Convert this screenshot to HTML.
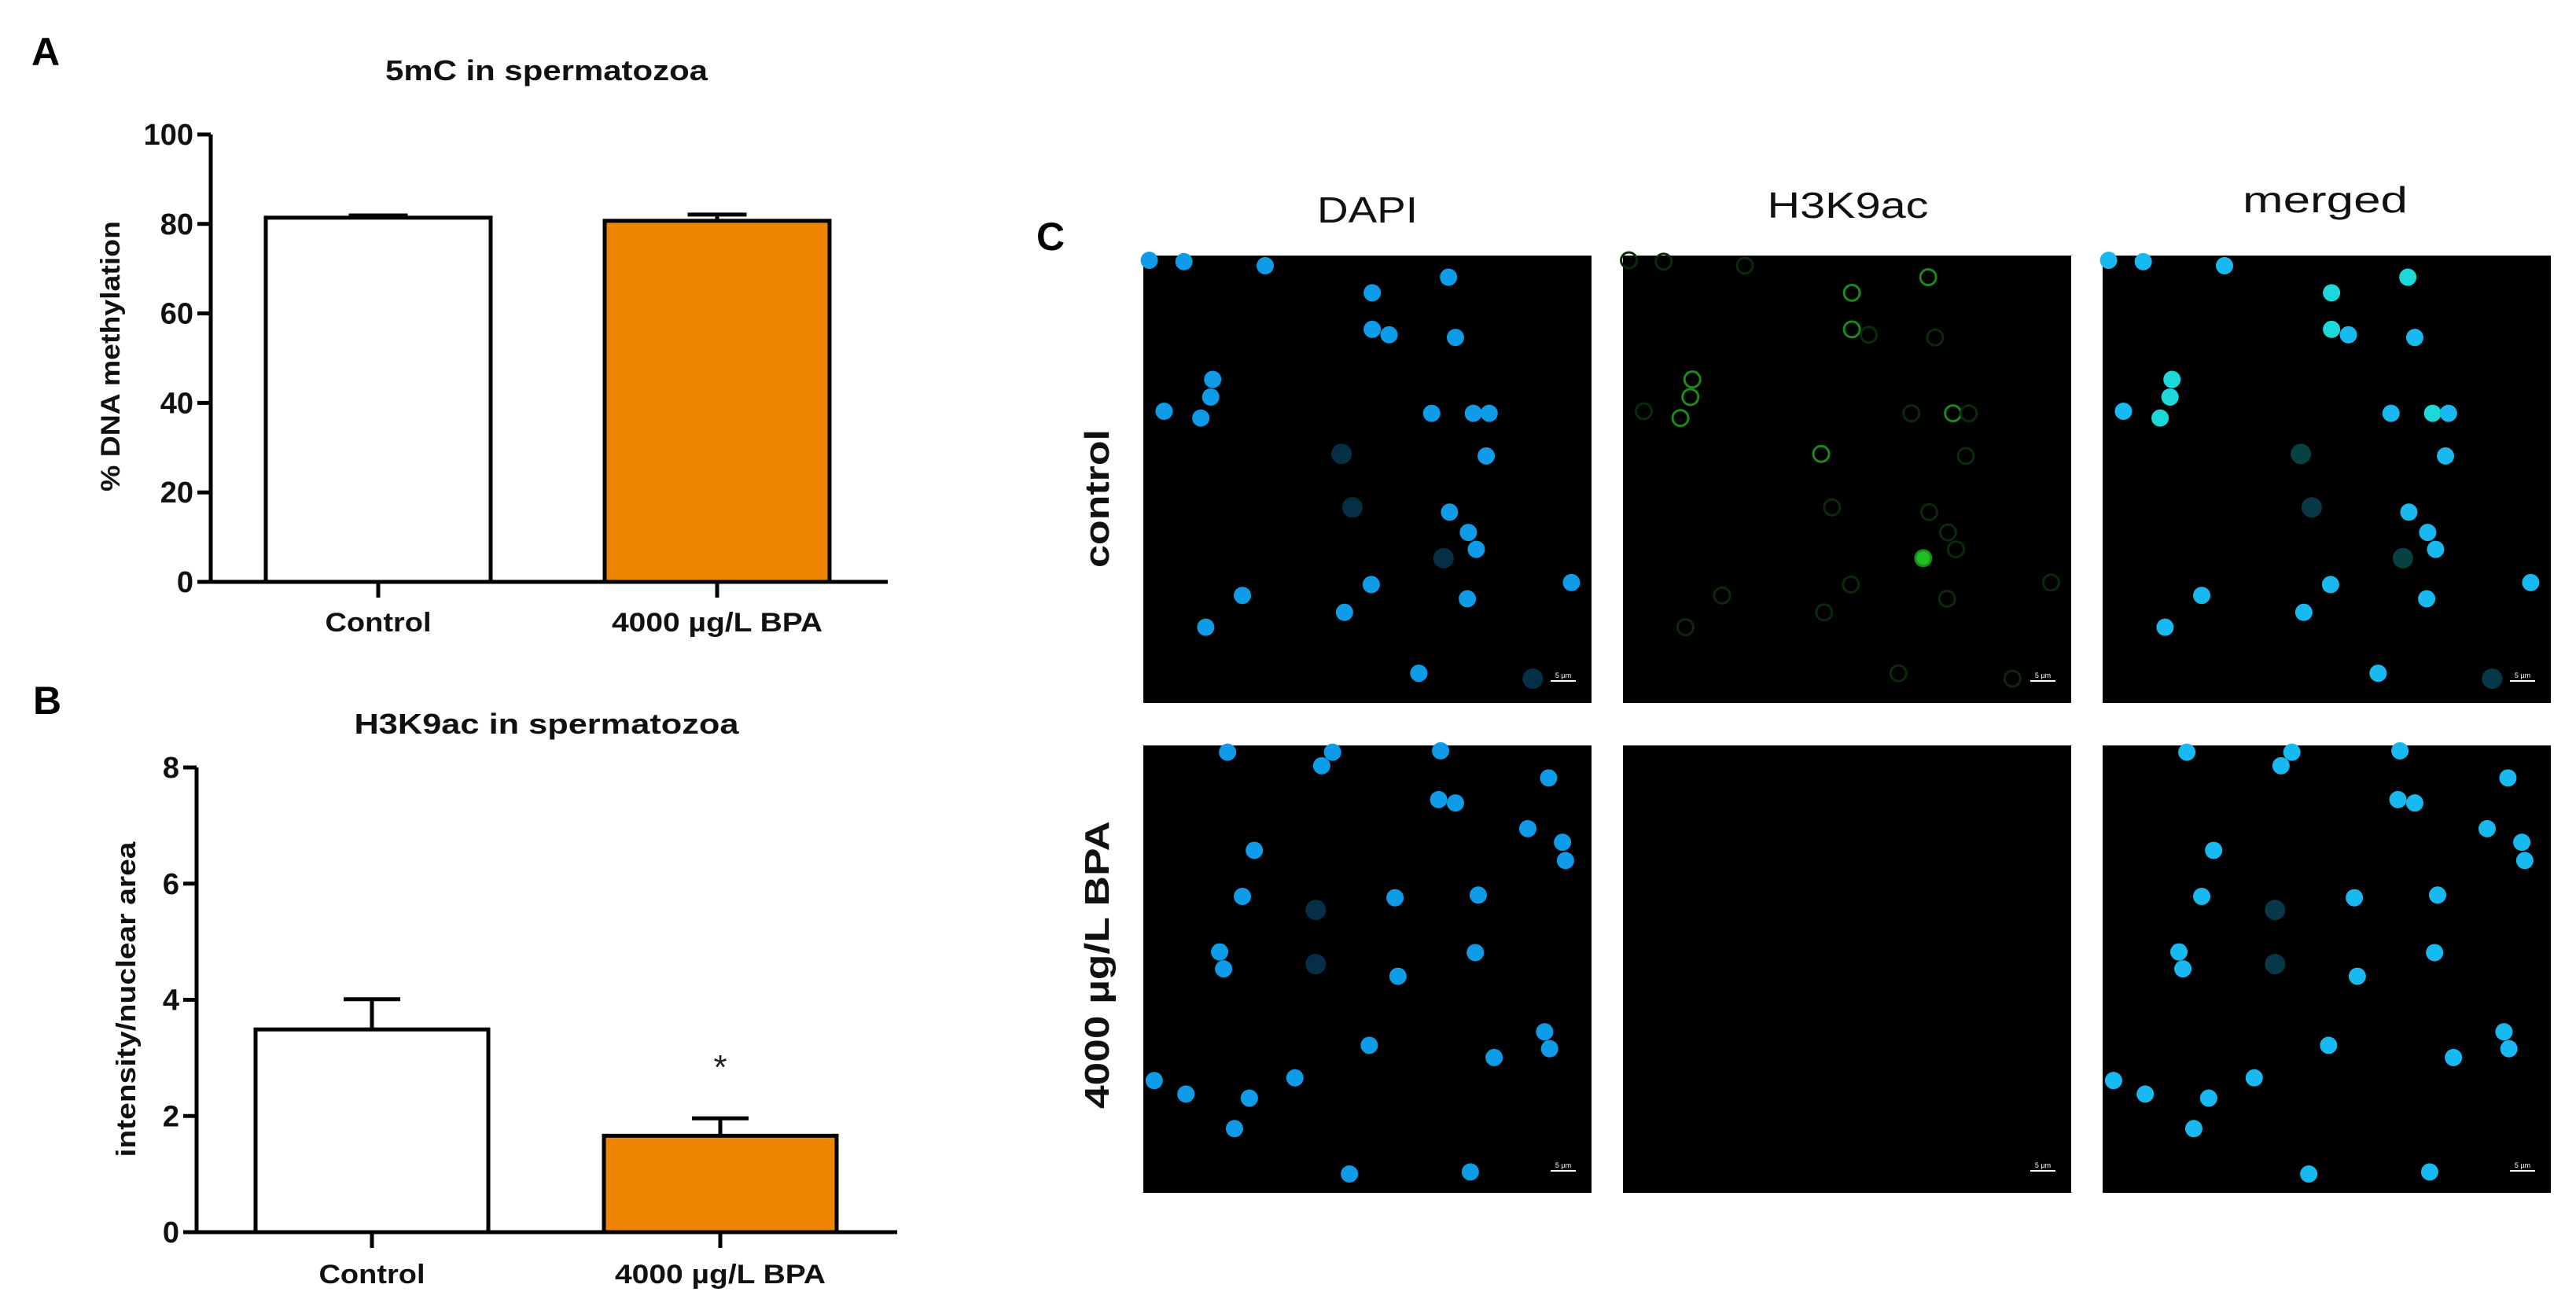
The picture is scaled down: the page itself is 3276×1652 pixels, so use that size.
<!DOCTYPE html>
<html><head><meta charset="utf-8"><style>
html,body{margin:0;padding:0;background:#fff}
svg{display:block}
text{font-family:"Liberation Sans",sans-serif}
</style></head><body>
<svg id="fig" width="3276" height="1652" viewBox="0 0 3276 1652" xmlns="http://www.w3.org/2000/svg">
<rect width="3276" height="1652" fill="#fff"/>
<g id="chartA"></g>
<g id="chartB"></g>
<g id="panelC"></g>
</svg>
<script>
// ---- chart data ----
const categories = ["Control", "4000 \u00b5g/L BPA"];
const methylValues = [81.4, 80.7];
const methylErr = [0.5, 1.4];
const methylTicks = [0, 20, 40, 60, 80, 100];
const acValues = [3.49, 1.66];
const acErr = [0.52, 0.30];
const acTicks = [0, 2, 4, 6, 8];
const barColors = ["#ffffff", "#ee8500"];

const NS = "http://www.w3.org/2000/svg";
function mk(parent, tag, attrs, txt){
  const e = document.createElementNS(NS, tag);
  for (const k in attrs) e.setAttribute(k, attrs[k]);
  if (txt !== undefined) e.textContent = txt;
  parent.appendChild(e);
  return e;
}

function drawChart(g, cfg){
  const y = v => cfg.y0 - (v - cfg.vmin) / (cfg.vmax - cfg.vmin) * (cfg.y0 - cfg.y1);
  const x = i => cfg.centers[i];
  // panel letter
  let t = mk(g, "text", {x: cfg.letterX, y: cfg.letterY, "font-size": 50, "font-weight": "bold"}, cfg.letter);
  
  
  t = mk(g, "text", {x: cfg.titleX, y: cfg.titleY, "font-size": 36, "font-weight": "bold", "text-anchor": "middle", textLength: cfg.titleLen, lengthAdjust: "spacingAndGlyphs", fill: "#111"}, cfg.title);
  
  
  // bars
  cfg.values.forEach((v, i) => {
    const cx = x(i);
    const eb = mk(g, "path", {d: `M${cx} ${y(v)} V${y(v + cfg.err[i])} M${cx - cfg.cap/2} ${y(v + cfg.err[i])} H${cx + cfg.cap/2}`, stroke: "#000", "stroke-width": 5, fill: "none"});
    
    
    const r = mk(g, "rect", {x: cx - cfg.barW/2, y: y(v), width: cfg.barW, height: y(cfg.vmin) - y(v), fill: barColors[i], stroke: "#000", "stroke-width": 5});
    
    
    const tk = mk(g, "line", {x1: cx, x2: cx, y1: cfg.y0, y2: cfg.y0 + 20, stroke: "#000", "stroke-width": 5});
    
    
    const lb = mk(g, "text", {x: cx, y: cfg.catY, "font-size": 34, "font-weight": "bold", "text-anchor": "middle", textLength: i === 0 ? 135 : 268, lengthAdjust: "spacingAndGlyphs", fill: "#111"}, categories[i]);
    
    
  });
  // axes
  const ax = mk(g, "path", {d: `M${cfg.axX} ${cfg.y1} V${cfg.y0} M${cfg.xStart} ${cfg.y0} H${cfg.xEnd}`, stroke: "#000", "stroke-width": 5, fill: "none"});
  
  
  cfg.ticks.forEach(v => {
    const l = mk(g, "line", {x1: cfg.axX - 17, x2: cfg.axX, y1: y(v), y2: y(v), stroke: "#000", "stroke-width": 5});
    
    
    const tl = mk(g, "text", {x: cfg.axX - 22, y: y(v) + 13, "font-size": 38, "font-weight": "bold", "text-anchor": "end", fill: "#111"}, String(v));
    
    
  });
  const yl = mk(g, "text", {x: 0, y: 0, "font-size": 34, "font-weight": "bold", "text-anchor": "middle", textLength: cfg.ylabLen, lengthAdjust: "spacingAndGlyphs", transform: `translate(${cfg.ylabX + 12},${cfg.ylabY}) rotate(-90)`, fill: "#111"}, cfg.ylab);
  
  
  if (cfg.star) {
    const s = mk(g, "text", {x: x(1), y: cfg.starY, "font-size": 44, "text-anchor": "middle", fill: "#222"}, "*");
    
    
  }
}

drawChart(document.getElementById("chartA"), {
  letter: "A", letterX: 40, letterY: 83, title: "5mC in spermatozoa", titleX: 695, titleY: 102, titleLen: 410,
  values: methylValues, err: methylErr, ticks: methylTicks, vmin: 0, vmax: 100,
  y0: 740, y1: 171, axX: 268, xStart: 252, xEnd: 1129, centers: [481, 912], barW: 286, cap: 75,
  catY: 803, ylab: "% DNA methylation", ylabX: 140, ylabY: 453, ylabLen: 344
});
drawChart(document.getElementById("chartB"), {
  letter: "B", letterX: 42, letterY: 908, title: "H3K9ac in spermatozoa", titleX: 695, titleY: 933, titleLen: 489,
  values: acValues, err: acErr, ticks: acTicks, vmin: 0, vmax: 8,
  y0: 1567, y1: 976, axX: 250, xStart: 234, xEnd: 1141, centers: [473, 916], barW: 296, cap: 72,
  catY: 1632, ylab: "intensity/nuclear area", ylabX: 160, ylabY: 1271, ylabLen: 401,
  star: true, starY: 1372
});

// ---- Panel C (microscopy) ----
const C = document.getElementById("panelC");
let tt = mk(C, "text", {x: 1318, y: 318, "font-size": 50, "font-weight": "bold"}, "C");


[["DAPI", 1739, 283, 128], ["H3K9ac", 2350, 277, 205], ["merged", 2957, 270, 210]].forEach(c => {
  const e = mk(C, "text", {x: c[1], y: c[2], "font-size": 46, "text-anchor": "middle", textLength: c[3], lengthAdjust: "spacingAndGlyphs", fill: "#111"}, c[0]);
  
  
});
[["control", 634, 176], ["4000 \u00b5g/L BPA", 1227, 366]].forEach(r => {
  const e = mk(C, "text", {x: 0, y: 0, "font-size": 44, "font-weight": "bold", "text-anchor": "middle", textLength: r[2], lengthAdjust: "spacingAndGlyphs", transform: `translate(${1410},${r[1]}) rotate(-90)`, fill: "#111"}, r[0]);
  
  
});
const colX = [1454, 2064, 2674], rowY = [325, 948], PW = 570, PH = 569;
const zx = v => 1300 + v / 0.7935, zy = v => 150 + v / 1.1615;
// cell positions in crop coords relative to first panel, [x, y, dim, green]
const row1 = [[128,210],[163,212],[245,218],[430,235,0,1],[353,258,0,1],[353,312,0,1],[370,320],[437,324],[192,386,0,1],[190,412,0,1],[143,433],[180,443,0,1],[413,436],[455,436,0,1],[471,436],[322,496,1,1],[468,499],[333,575,1],[431,582],[450,612],[458,637],[425,650,1,2],[352,689],[222,705],[554,686],[449,710],[325,730],[185,752],[400,820],[515,828,1]];
const row2 = [[207,937],[313,937],[302,957],[422,935],[531,975],[420,1007],[437,1012],[510,1050],[545,1070],[548,1097],[234,1082],[222,1150],[376,1152],[460,1148],[199,1232],[203,1257],[457,1233],[379,1268],[350,1370],[527,1350],[532,1375],[476,1388],[133,1422],[165,1442],[229,1448],[275,1418],[214,1493],[330,1560],[452,1557],[296,1170,1],[296,1250,1]];
for (let r = 0; r < 2; r++) {
  for (let c = 0; c < 3; c++) {
    const p = mk(C, "rect", {x: colX[c], y: rowY[r], width: PW, height: PH, fill: "#000"});
    
    
    const cells = r ? row2 : row1;
    const oy = r ? 927 : 203;
    cells.forEach(cl => {
      const cx = colX[c] + (zx(cl[0]) - zx(122));
      const cy = rowY[r] + (zy(cl[1]) - zy(oy));
      if (cx < colX[c] || cx > colX[c] + PW || cy < rowY[r] || cy > rowY[r] + PH) return;
      let el;
      if (c === 1) {
        if (r === 1) return;
        const bright = cl[3] === 2;
        el = mk(C, "circle", {cx: cx, cy: cy, r: 10, fill: bright ? "#20c020" : "none", stroke: cl[3] ? "#1a8a1a" : "#0b2a0b", "stroke-width": 3});
      } else {
        const col = c === 2 ? (cl[3] ? "#1cd8d8" : "#18b8f0") : "#0e9be8";
        el = mk(C, "circle", {cx: cx, cy: cy, r: cl[2] ? 13 : 11, fill: col, opacity: cl[2] ? 0.3 : 1});
      }
      
      
    });
    const sb = mk(C, "line", {x1: colX[c] + PW - 52, x2: colX[c] + PW - 20, y1: rowY[r] + PH - 28, y2: rowY[r] + PH - 28, stroke: "#fff", "stroke-width": 2});
    
    
    const st = mk(C, "text", {x: colX[c] + PW - 36, y: rowY[r] + PH - 32, "font-size": 9, fill: "#fff", "text-anchor": "middle"}, "5 \u00b5m");
    
    
  }
}
</script>
</body></html>
